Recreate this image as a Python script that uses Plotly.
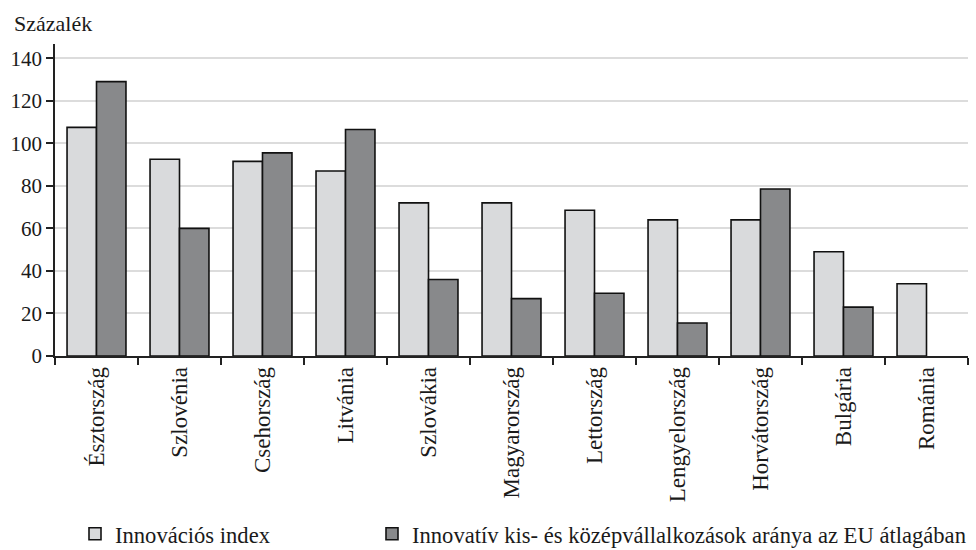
import plotly.graph_objects as go

categories = ["Észtország", "Szlovénia", "Csehország", "Litvánia", "Szlovákia",
              "Magyarország", "Lettország", "Lengyelország", "Horvátország",
              "Bulgária", "Románia"]
innovacios_index = [107.5, 92.5, 91.5, 87, 72, 72, 68.5, 64, 64, 49, 34]
kkv_arany = [129, 60, 95.5, 106.5, 36, 27, 29.5, 15.5, 78.5, 23, None]

series_names = ["Innovációs index",
                "Innovatív kis- és középvállalkozások aránya az EU átlagában"]
y_ticks = [0, 20, 40, 60, 80, 100, 120, 140]

FONT = "Liberation Serif"
TXT = "#1a1a1a"
LIGHT = "#d9dadc"
DARK = "#88898b"

PLOT_L, PLOT_R, PLOT_T, PLOT_B = 55, 968, 44, 356
PW = PLOT_R - PLOT_L
PH = PLOT_B - PLOT_T

fig = go.Figure()
fig.add_trace(go.Bar(x=categories, y=innovacios_index, name=series_names[0],
                     marker=dict(color=LIGHT, line=dict(color="#111111", width=1.6)),
                     legend="legend"))
fig.add_trace(go.Bar(x=categories, y=kkv_arany, name=series_names[1],
                     marker=dict(color=DARK, line=dict(color="#111111", width=1.6)),
                     legend="legend2"))

legend_y = -(534 - PLOT_B) / PH
fig.update_layout(
    width=976, height=550,
    margin=dict(l=PLOT_L, r=976 - PLOT_R, t=PLOT_T, b=550 - PLOT_B,
                autoexpand=False),
    paper_bgcolor="white", plot_bgcolor="white",
    font=dict(family=FONT, size=22, color=TXT),
    barmode="group", bargap=0.29, bargroupgap=0,
    title=dict(text="Százalék", xref="container", yref="container",
               x=14/976, xanchor="left", y=1-23/550, yanchor="middle",
               font=dict(family=FONT, size=22, color=TXT)),
    showlegend=True,
    legend=dict(orientation="h", x=(75-PLOT_L)/PW, xanchor="left",
                y=legend_y, yanchor="middle",
                font=dict(family=FONT, size=22.6, color=TXT), bgcolor="rgba(0,0,0,0)"),
    legend2=dict(orientation="h", x=(372-PLOT_L)/PW, xanchor="left",
                 y=legend_y, yanchor="middle",
                 font=dict(family=FONT, size=22.6, color=TXT), bgcolor="rgba(0,0,0,0)"),
)

fig.update_xaxes(
    type="category", tickangle=-90, ticks="outside", tickson="boundaries",
    ticklen=7, tickwidth=1.5, tickcolor="#222222",
    showline=True, linecolor="#222222", linewidth=1.5,
    showgrid=False, tickfont=dict(family=FONT, size=23, color=TXT),
    automargin=False,
)
fig.update_yaxes(
    range=[0, 146.7], tickvals=y_ticks, ticks="outside", ticklen=7,
    tickwidth=1.5, tickcolor="#222222",
    showline=True, linecolor="#222222", linewidth=1.5,
    showgrid=True, gridcolor="#dcdcdc", gridwidth=1.5,
    zeroline=False, tickfont=dict(family=FONT, size=21, color=TXT),
    automargin=False,
)

fig.write_html("out.html",
               config={"displayModeBar": False},
               post_script="document.body.style.margin='0';"
                           "document.body.style.overflow='hidden';")
